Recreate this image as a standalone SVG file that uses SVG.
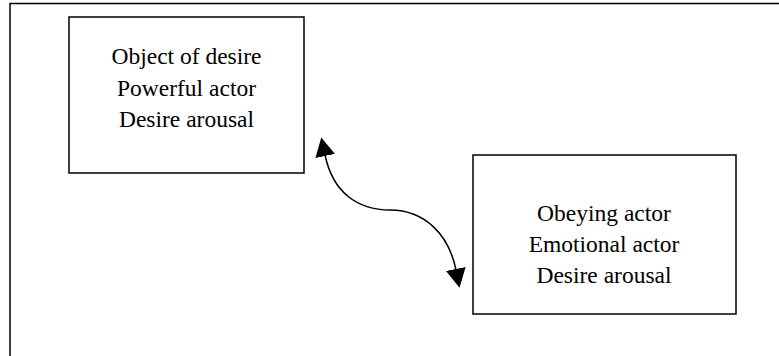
<svg xmlns="http://www.w3.org/2000/svg" width="779" height="356" viewBox="0 0 779 356">
<style>
.frame{fill:none;stroke:#000;stroke-width:1.5}
.box{fill:#fff;stroke:#000;stroke-width:1.5}
.lbl{font-family:"Liberation Serif","Times New Roman",serif;font-size:23.5px;fill:#000;text-anchor:middle}
.conn{fill:none;stroke:#000;stroke-width:1.5}
</style>
<defs>
<marker id="ah" viewBox="0 0 19 20" refX="1" refY="10" markerWidth="19" markerHeight="20" markerUnits="userSpaceOnUse" orient="auto-start-reverse">
<path d="M0,0 L19,10 L0,20 z" fill="#000"/>
</marker>
</defs>
<path class="frame" d="M10,356 L10,3.5 L779,3.5"/>
<g id="node-object">
<rect class="box" x="69" y="17" width="235" height="156"/>
<text class="lbl" x="186.5" y="64">Object of desire</text>
<text class="lbl" x="186.5" y="95.5">Powerful actor</text>
<text class="lbl" x="186.5" y="127">Desire arousal</text>
</g>
<g id="node-obeying">
<rect class="box" x="473" y="155" width="263" height="159"/>
<text class="lbl" x="604" y="220.5">Obeying actor</text>
<text class="lbl" x="604" y="252">Emotional actor</text>
<text class="lbl" x="604" y="283">Desire arousal</text>
</g>
<g id="connectors">
<path class="conn" d="M325,155 C333,193 358,210 390,210 C425,210 449,235 456,270" marker-start="url(#ah)" marker-end="url(#ah)"/>
</g>
</svg>
